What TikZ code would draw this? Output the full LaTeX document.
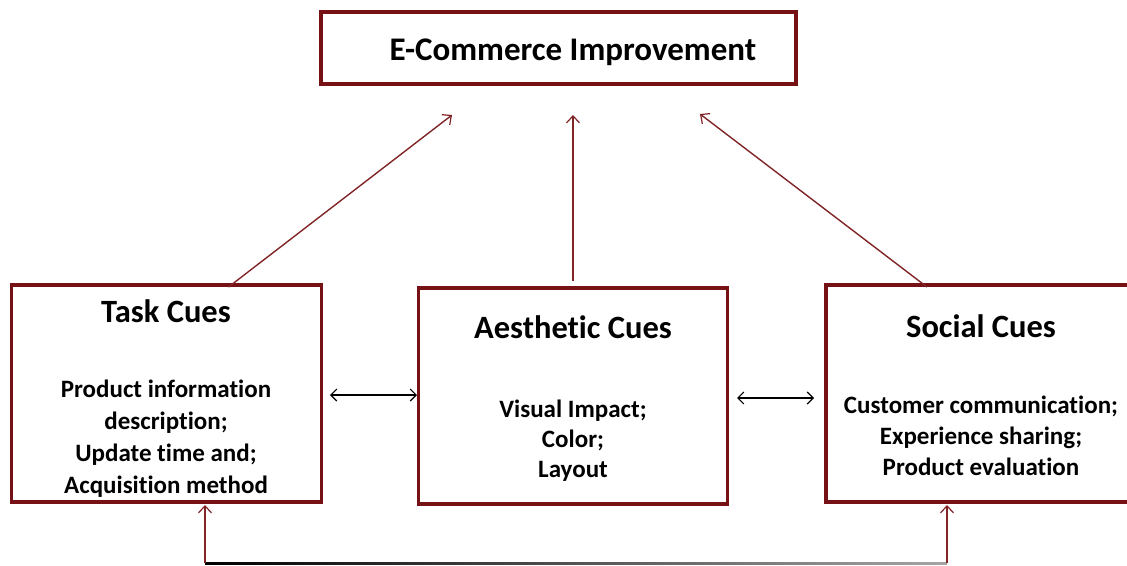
\documentclass[tikz,border=0pt]{standalone}
\usepackage{fontspec}
\setmainfont{Carlito}[Ligatures=NoCommon]
\usetikzlibrary{arrows.meta}
\definecolor{boxred}{RGB}{118,18,22}
\definecolor{arrred}{RGB}{128,36,38}
\tikzset{
  cuebox/.style={draw=boxred, line width=3.8pt, fill=white, rectangle, inner sep=0pt, outer sep=0pt, anchor=north west},
  lbl/.style={anchor=base, inner sep=0pt, font=\bfseries\fontsize{#1}{#1}\selectfont},
  redarrow/.style={draw=arrred, line width=1.4pt, -{Straight Barb[length=7pt,width=13pt,line width=1.2pt]}},
  blackarrow/.style={draw=black, line width=1.3pt, {Straight Barb[length=6pt,width=12pt,line width=1.1pt]}-{Straight Barb[length=6pt,width=12pt,line width=1.1pt]}}
}
\begin{document}
\begin{tikzpicture}[x=1pt,y=-1pt]
\useasboundingbox (0,0) rectangle (1127,565);
\clip (0,0) rectangle (1127,565);
% boxes
\node[cuebox, minimum width=475pt, minimum height=72pt] (top) at (321,12) {};
\node[cuebox, minimum width=310pt, minimum height=217pt] (task) at (11.5,285) {};
\node[cuebox, minimum width=309pt, minimum height=216pt] (aes) at (418.5,288) {};
\node[cuebox, minimum width=320pt, minimum height=217pt] (soc) at (826,285) {};
% texts
\node[lbl=33] (toptxt) at (573,60) {E-Commerce Improvement};
\node[lbl=32.5] (tasktitle) at (166,322) {Task Cues};
\node[lbl=25] (task1) at (166,397) {Product information};
\node[lbl=25] (task2) at (166,429) {description;};
\node[lbl=25] (task3) at (166,461) {Update time and;};
\node[lbl=25] (task4) at (166,493) {Acquisition method};
\node[lbl=32.5] (aestitle) at (573,338) {Aesthetic Cues};
\node[lbl=25] (aes1) at (573,417) {Visual Impact;};
\node[lbl=25] (aes2) at (573,447) {Color;};
\node[lbl=25] (aes3) at (573,477) {Layout};
\node[lbl=32.5] (soctitle) at (981,337) {Social Cues};
\node[lbl=25] (soc1) at (981,413) {Customer communication;};
\node[lbl=25] (soc2) at (981,444) {Experience sharing;};
\node[lbl=25] (soc3) at (981,475) {Product evaluation};
% free ends
\coordinate (e1) at (452,115);
\coordinate (e2) at (573,115);
\coordinate (e3) at (700,114);
\coordinate (d1) at (330,395);
\coordinate (d2) at (417,395);
\coordinate (d3) at (737,398);
\coordinate (d4) at (814,398);
\coordinate (b1) at (205,563);
\coordinate (b2) at (947,563);
\coordinate (u1) at (205,505);
\coordinate (u2) at (947,505);
% arrows to top
\draw[redarrow] ([xshift=217pt,yshift=-2pt]task.north west) -- (e1);
\draw[redarrow] ([yshift=7pt]aes.north) -- (e2);
\draw[redarrow] ([xshift=101pt,yshift=-2pt]soc.north west) -- (e3);
% double arrows
\draw[blackarrow] (d1) -- (d2);
\draw[blackarrow] (d3) -- (d4);
% bottom connector
\shade[left color=black, right color=black!35] (205,562) rectangle (947,564.5);
\draw[redarrow] (b1) -- (u1);
\draw[redarrow] (b2) -- (u2);
\end{tikzpicture}
\end{document}
